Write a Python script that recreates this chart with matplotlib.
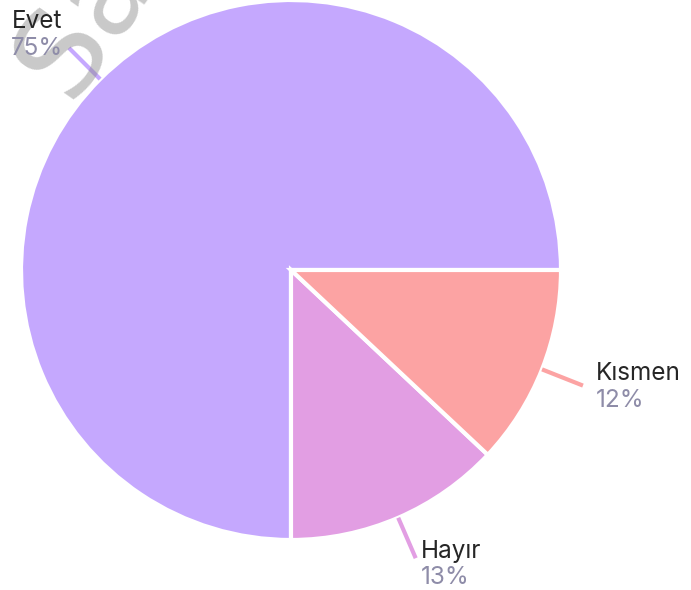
import matplotlib.pyplot as plt
import numpy as np

labels = ['Evet', 'Hayır', 'Kısmen']
values = [75, 13, 12]
colors = ['#c5a8fe', '#e29ee3', '#fca3a3']

W, H = 691, 590
fig = plt.figure(figsize=(W / 100, H / 100), dpi=100)
ax = fig.add_axes([0, 0, 1, 1])

cx, cy, r = 291, H - 270, 270
wedges, _ = ax.pie(values, colors=colors, startangle=0, counterclock=True,
                   center=(cx, cy), radius=r, frame=True,
                   wedgeprops=dict(edgecolor='white', linewidth=3))
ax.set_xlim(0, W)
ax.set_ylim(0, H)
ax.set_aspect('equal')
ax.axis('off')

# leader lines
for w, col in zip(wedges, colors):
    ang = np.deg2rad((w.theta1 + w.theta2) / 2)
    x0, y0 = cx + r * np.cos(ang), cy + r * np.sin(ang)
    x1, y1 = cx + (r + 44) * np.cos(ang), cy + (r + 44) * np.sin(ang)
    ax.plot([x0, x1], [y0, y1], color=col, lw=3, solid_capstyle='butt')

fs = 17.5
name_col, pct_col = '#262626', '#8e8ca8'
ax.text(62, H - 28, 'Evet', ha='right', va='baseline', fontsize=fs,
        family='Inter', color=name_col, zorder=6)
ax.text(63, H - 55, '75%', ha='right', va='baseline', fontsize=fs,
        family='Inter', color=pct_col, zorder=6)
ax.text(596, H - 380, 'Kısmen', ha='left', va='baseline', fontsize=fs,
        family='Inter', color=name_col)
ax.text(596, H - 407, '12%', ha='left', va='baseline', fontsize=fs,
        family='Inter', color=pct_col)
ax.text(421, H - 558, 'Hayır', ha='left', va='baseline', fontsize=fs,
        family='Inter', color=name_col)
ax.text(421, H - 584, '13%', ha='left', va='baseline', fontsize=fs,
        family='Inter', color=pct_col)

# faint watermark in the corner
ax.text(84, H - 22, 'Sa', rotation=55, fontsize=86, color='#888888',
        alpha=0.45, ha='center', va='center', family='DejaVu Sans', zorder=5)

fig.savefig('out.png', dpi=100)
